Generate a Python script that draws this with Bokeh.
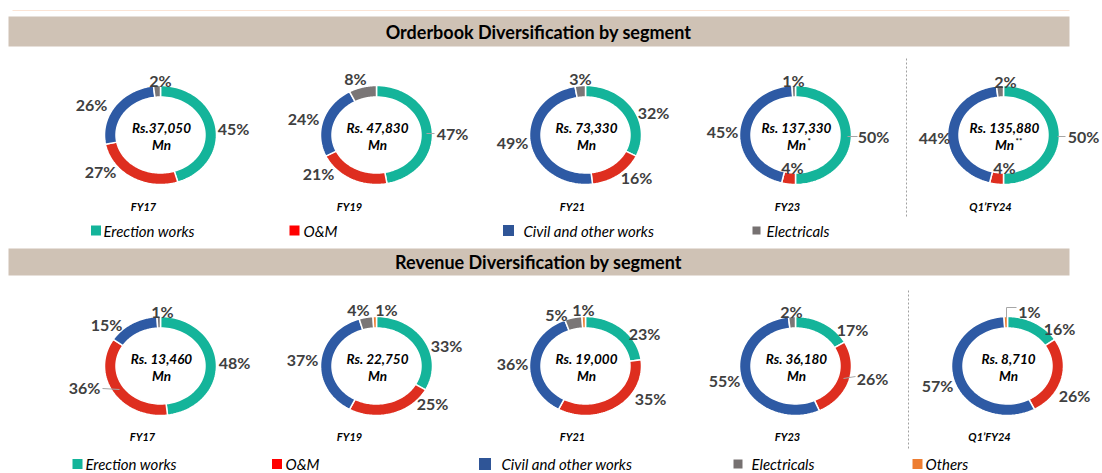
import numpy as np
from bokeh.plotting import figure
from bokeh.models import Range1d
from bokeh.core.properties import value
from bokeh.embed import file_html
from bokeh.resources import INLINE

# ---------------- data ----------------
periods = ["FY17", "FY19", "FY21", "FY23", "Q1\u2019FY24"]
segments = ["Erection works", "O&M", "Civil  and other works", "Electricals", "Others"]

ob_erection = [45, 47, 32, 50, 50]
ob_om = [27, 21, 16, 4, 4]
ob_civil = [26, 24, 49, 45, 44]
ob_electricals = [2, 8, 3, 1, 2]
ob_others = [0, 0, 0, 0, 0]
ob_total = ["Rs.37,050", "Rs. 47,830", "Rs. 73,330", "Rs. 137,330", "Rs. 135,880"]
ob_unit = ["Mn", "Mn", "Mn", "Mn", "Mn"]
ob_unit_mark = ["", "", "", "*", "**"]

rev_erection = [48, 33, 23, 17, 16]
rev_om = [36, 25, 35, 26, 26]
rev_civil = [15, 37, 36, 55, 57]
rev_electricals = [1, 4, 5, 2, 0]
rev_others = [0, 1, 1, 0, 1]
rev_total = ["Rs. 13,460", "Rs. 22,750", "Rs. 19,000", "Rs. 36,180", "Rs. 8,710"]
rev_unit = ["Mn", "Mn", "Mn", "Mn", "Mn"]
rev_unit_mark = ["", "", "", "", ""]

titles = ["Orderbook Diversification by segment", "Revenue Diversification by segment"]

# ---------------- styles / layout ----------------
slice_colors = ["#14B49A", "#DE2E1F", "#2E5AA4", "#7A7676", "#ED7D31"]
legend_colors = ["#14B49A", "#FF0000", "#2F5597", "#767171", "#ED7D31"]
FONT = value("Lato")
W, H = 1102, 473


def Y(y):  # reference pixel row -> data y
    return H - y


RX_O, RY_O = 56.0, 49.5
RX_I, RY_I = 44.5, 38.0

ob_cx = [160, 376, 585, 795, 1003]
ob_cy = 134.5
rev_cx = [160, 376, 585, 795, 1007]
rev_cy = 365.5

# label anchor positions (reference pixels), per slice, order = segments
ob_lab_pos = [
    [(233, 128), (100, 171), (91, 104), (160, 80), None],
    [(452, 133), (318, 173), (303, 118), (355, 78), None],
    [(653, 112), (636, 177), (512, 142), (580, 78), None],
    [(873, 136), (792, 167), (722, 131), (793, 80), None],
    [(1083, 136), (1004, 167), (934, 137), (1005, 81), None],
]
rev_lab_pos = [
    [(234, 362), (84, 387), (106, 324), (162, 311), None],
    [(446, 345), (432, 403), (302, 359), (358, 309), (386, 309)],
    [(644, 333), (650, 398), (512, 363), (556, 314), (583, 309)],
    [(852, 329), (872, 378), (724, 380), (791, 311), None],
    [(1059, 328), (1074, 395), (937, 385), None, (1029, 311)],
]
ob_leaders = [[(426, 133), (434, 133)], [(847, 136), (857, 136)], [(1057, 136), (1065, 136)]]
rev_leaders = [[(102, 388), (119, 389)], [(843, 378), (855, 376)],
               [(1006, 318), (1006, 307), (1016, 307)]]

ob_period_x = [143, 349, 572, 787, 990]
rev_period_x = [142, 349, 572, 787, 989]

p = figure(width=W, height=H, output_backend="svg", toolbar_location=None,
           x_range=Range1d(0, W), y_range=Range1d(0, H),
           min_border=0, outline_line_color=None, background_fill_color="white")
p.axis.visible = False
p.grid.visible = False

# faint top rule
p.line(x=[12, 1069], y=[Y(10), Y(10)], line_color="#FBE4D5", line_width=1)

# banners
for (top, bot), title in zip([(16, 46), (248, 275)], titles):
    p.quad(left=8, right=1069, top=Y(top), bottom=Y(bot), fill_color="#CFC2B5",
           line_color=None)
    p.text(x=[538], y=[Y((top + bot) / 2)], text=[title], text_font=FONT,
           text_font_style="bold", text_font_size="18px", text_align="center",
           text_baseline="middle", text_color="#000000")


def draw_row(cxs, cy, series, totals, units, marks, lab_pos, leaders, period_x, period_y):
    xs, ys, cols = [], [], []
    lx, ly, lt = [], [], []
    for i, cx in enumerate(cxs):
        vals = [s[i] for s in series]
        cum = np.concatenate([[0.0], np.cumsum(vals)]) / 100.0
        for k, v in enumerate(vals):
            if v <= 0:
                continue
            t = np.linspace(2 * np.pi * cum[k], 2 * np.pi * cum[k + 1], 60)
            xo = cx + RX_O * np.sin(t)
            yo = Y(cy) + RY_O * np.cos(t)
            xi = cx + RX_I * np.sin(t[::-1])
            yi = Y(cy) + RY_I * np.cos(t[::-1])
            xs.append(np.concatenate([xo, xi]).tolist())
            ys.append(np.concatenate([yo, yi]).tolist())
            cols.append(slice_colors[k])
            pos = lab_pos[i][k]
            if pos is not None:
                lx.append(pos[0]); ly.append(Y(pos[1])); lt.append(f"{v:g}%")
    p.patches(xs=xs, ys=ys, fill_color=cols, line_color="white", line_width=1.5)
    for seg in leaders:
        p.line(x=[q[0] for q in seg], y=[Y(q[1]) for q in seg], line_color="#A6A6A6",
               line_width=1)
    p.text(x=lx, y=ly, text=lt, text_font=FONT, text_font_style="bold",
           text_font_size="16px", text_align="center", text_baseline="middle",
           text_color="#404040")
    # centre texts
    p.text(x=[c + 1 for c in cxs], y=[Y(cy - 7)] * len(cxs), text=totals, text_font=FONT,
           text_font_style="bold italic", text_font_size="13.5px", text_align="center",
           text_baseline="middle", text_color="#000000")
    p.text(x=[c + 1 for c in cxs], y=[Y(cy + 9.5)] * len(cxs), text=units, text_font=FONT,
           text_font_style="bold italic", text_font_size="13.5px", text_align="center",
           text_baseline="middle", text_color="#000000")
    mx = [c + 12 for c, m in zip(cxs, marks) if m]
    mt = [m for m in marks if m]
    if mt:
        p.text(x=mx, y=[Y(cy + 6)] * len(mt), text=mt, text_font=FONT,
               text_font_style="bold", text_font_size="8px", text_align="left",
               text_baseline="middle", text_color="#000000")
    p.text(x=period_x, y=[Y(period_y)] * len(period_x), text=periods, text_font=FONT,
           text_font_style="bold italic", text_font_size="11px", text_align="center",
           text_baseline="middle", text_color="#000000")


draw_row(ob_cx, ob_cy, [ob_erection, ob_om, ob_civil, ob_electricals, ob_others],
         ob_total, ob_unit, ob_unit_mark, ob_lab_pos, ob_leaders, ob_period_x, 206)
draw_row(rev_cx, rev_cy, [rev_erection, rev_om, rev_civil, rev_electricals, rev_others],
         rev_total, rev_unit, rev_unit_mark, rev_lab_pos, rev_leaders, rev_period_x, 436)

# dotted separators
p.line(x=[906, 906], y=[Y(58), Y(218)], line_color="#A0A0A0", line_width=1, line_dash="2 2")
p.line(x=[908, 908], y=[Y(290), Y(450)], line_color="#A0A0A0", line_width=1, line_dash="2 2")

# legends
leg1_sq = [95.5, 294, 508, 756]
leg1_sz = [10, 10, 11, 8]
leg1_tx = [103, 303, 523, 766]
leg2_sq = [77, 276.5, 484.5, 737.5, 917]
leg2_sz = [10, 10, 12, 9, 10]
leg2_tx = [85, 285, 501, 751, 925]

p.scatter(x=leg1_sq, y=[Y(230)] * 4, size=leg1_sz, marker="square",
          fill_color=legend_colors[:4], line_color=None)
p.text(x=leg1_tx, y=[Y(230)] * 4, text=segments[:4], text_font=FONT,
       text_font_style="italic", text_font_size="15px", text_align="left",
       text_baseline="middle", text_color="#000000")
p.scatter(x=leg2_sq, y=[Y(463.5)] * 5, size=leg2_sz, marker="square",
          fill_color=legend_colors, line_color=None)
p.text(x=leg2_tx, y=[Y(463)] * 5, text=segments, text_font=FONT,
       text_font_style="italic", text_font_size="15px", text_align="left",
       text_baseline="middle", text_color="#000000")

open("out.html", "w").write(file_html(p, INLINE))
